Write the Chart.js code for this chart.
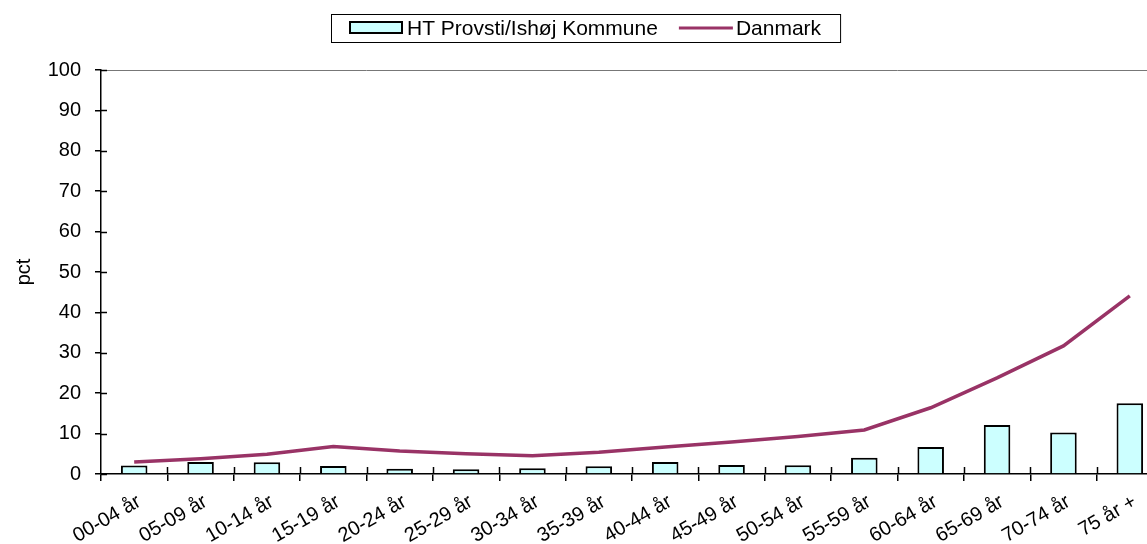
<!DOCTYPE html>
<html><head><meta charset="utf-8">
<script src="https://cdn.jsdelivr.net/npm/chart.js@4.4.1/dist/chart.umd.min.js"></script>
<style>html,body{margin:0;padding:0;overflow:hidden;background:#fff;width:1147px;height:544px}
#wrap{width:1163px;height:544px;position:relative}</style>
</head><body><div id="wrap"><canvas id="c"></canvas></div>
<script>
const categories = ["00-04 år","05-09 år","10-14 år","15-19 år","20-24 år","25-29 år","30-34 år","35-39 år","40-44 år","45-49 år","50-54 år","55-59 år","60-64 år","65-69 år","70-74 år","75 år +"];
const provstiValues = [2.1,3.0,2.9,2.0,1.3,1.15,1.4,1.9,3.0,2.2,2.15,4.0,6.7,12.1,10.3,17.5];
const danmarkValues = [3.0,3.8,4.9,6.8,5.7,5.0,4.5,5.4,6.7,7.9,9.3,10.9,16.4,23.8,31.7,44.1];
const yTicks = [0,10,20,30,40,50,60,70,80,90,100];

const FAM = "'Liberation Sans', Arial, sans-serif";
const font = {family:FAM, size:20};
Chart.defaults.font = font;
Chart.defaults.color = '#000';

const decor = {
  id:'decor',
  afterDraw(chart){
    const ctx = chart.ctx, a = chart.chartArea;
    ctx.save();
    // legend
    const bar = chart.data.datasets[1], line = chart.data.datasets[0];
    ctx.font = '21px ' + FAM;
    ctx.textBaseline = 'middle'; ctx.fillStyle = '#000';
    const lx = 331, ly = 14, cy = 28;
    let x = lx + 19;
    ctx.fillStyle = bar.backgroundColor; ctx.fillRect(x, 22, 52, 11);
    ctx.strokeStyle = '#000'; ctx.lineWidth = 2; ctx.strokeRect(x, 22, 52, 11);
    x += 57; ctx.fillStyle = '#000'; ctx.fillText(bar.label, x, cy+1);
    x += ctx.measureText(bar.label).width + 21;
    ctx.strokeStyle = line.borderColor; ctx.lineWidth = 3;
    ctx.beginPath(); ctx.moveTo(x, cy); ctx.lineTo(x+54, cy); ctx.stroke();
    x += 57; ctx.fillText(line.label, x, cy+1);
    x += ctx.measureText(line.label).width + 19;
    ctx.strokeStyle = '#000'; ctx.lineWidth = 1;
    ctx.strokeRect(lx+0.5, ly+0.5, x - lx, 28);
    // top border
    ctx.strokeStyle = '#777'; ctx.lineWidth = 1;
    ctx.beginPath(); ctx.moveTo(a.left, a.top+0.5); ctx.lineTo(a.right, a.top+0.5); ctx.stroke();
    // inner tick parts
    ctx.strokeStyle = '#000'; ctx.lineWidth = 1.5;
    const ys = chart.scales.y;
    yTicks.forEach(v=>{ const p = Math.round(ys.getPixelForValue(v))+0.5; ctx.beginPath(); ctx.moveTo(a.left, p); ctx.lineTo(a.left+6, p); ctx.stroke(); });
    const xs = chart.scales.x;
    for(let i=1;i<categories.length;i++){
      const p = Math.round((xs.getPixelForValue(i-1)+xs.getPixelForValue(i))/2)+0.5;
      ctx.beginPath(); ctx.moveTo(p, a.bottom); ctx.lineTo(p, a.bottom-7); ctx.stroke();
    }
    ctx.restore();
  }
};

new Chart(document.getElementById('c'), {
  data:{
    labels:categories,
    datasets:[
      {type:'line', label:'Danmark', data:danmarkValues, borderColor:'#993366', backgroundColor:'#993366', borderWidth:3.5, pointRadius:0, tension:0, order:0},
      {type:'bar', label:'HT Provsti/Ishøj Kommune', data:provstiValues, backgroundColor:'#CCFFFF', borderColor:'#000', borderWidth:2, barPercentage:0.4, categoryPercentage:1, order:1}
    ]
  },
  options:{
    responsive:true, maintainAspectRatio:false, animation:false,
    layout:{padding:{top:70,left:8,right:0,bottom:0}},
    plugins:{ legend:{display:false}, tooltip:{enabled:false} },
    scales:{
      x:{offset:true, grid:{display:true, offset:true, drawOnChartArea:false, color:'#000', tickLength:7, lineWidth:1.5},
         border:{display:true, color:'#000', width:1.5},
         afterFit(s){ s.height = 70; },
         ticks:{font:font, color:'#000', maxRotation:30, minRotation:30, padding:9, labelOffset:5, autoSkip:false}},
      y:{min:0, max:100, afterBuildTicks(s){ s.ticks = yTicks.map(v=>({value:v})); },
         afterFit(s){ s.width = 93; },
         grid:{display:true, drawOnChartArea:false, color:'#000', tickLength:6, lineWidth:1.5},
         border:{display:true, color:'#000', width:1.5},
         ticks:{font:font, color:'#000', padding:14},
         title:{display:true, text:'pct', font:font, color:'#000', padding:{bottom:20}}}
    }
  },
  plugins:[decor]
});
</script></body></html>
